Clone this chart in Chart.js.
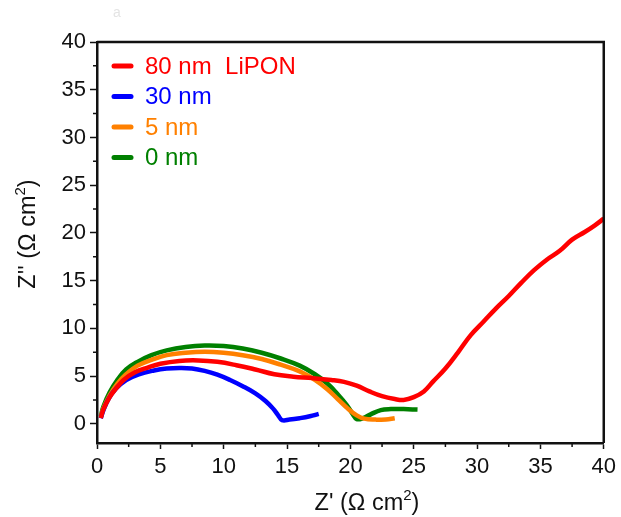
<!DOCTYPE html>
<html>
<head>
<meta charset="utf-8">
<script src="https://cdn.jsdelivr.net/npm/chart.js@4.4.1/dist/chart.umd.min.js"></script>
<style>
  html, body { margin: 0; padding: 0; background: #fff; }
  #wrap { width: 621px; height: 517px; position: relative; }
</style>
</head>
<body>
<div id="wrap"><canvas id="c" width="621" height="517"></canvas></div>
<script>
// Nyquist plots for cells with different LiPON thicknesses
const seriesLabels = ['80 nm  LiPON', '30 nm', '5 nm', '0 nm'];
const seriesColors = ['#ff0000', '#0000ff', '#ff8000', '#008000'];

// Z' (x) and Z'' (y) in Ω cm²
const lipon80X = [0.3,0.5,1.0,1.5,2.1,3.0,4.0,5.0,6.5,8.0,9.5,11.0,12.5,14.0,15.5,17.0,18.5,19.5,20.5,21.5,22.5,23.5,24.2,25.0,25.8,26.5,27.5,28.5,29.5,30.5,31.5,32.5,33.5,34.5,35.5,36.5,37.5,38.5,39.3,40.0];
const lipon80Y = [0.6,1.5,2.8,3.7,4.6,5.4,5.9,6.3,6.6,6.65,6.5,6.15,5.7,5.2,4.95,4.8,4.6,4.4,4.0,3.4,2.9,2.6,2.5,2.8,3.4,4.4,5.8,7.5,9.3,10.7,12.1,13.4,14.8,16.1,17.2,18.1,19.3,20.1,20.8,21.5];

const lipon30X = [0.3,0.5,0.9,1.5,2.3,3.3,4.5,5.5,6.5,7.5,8.5,9.5,10.5,11.5,12.5,13.3,13.9,14.3,14.6,15.2,16.0,16.8,17.5];
const lipon30Y = [0.6,1.4,2.6,3.7,4.6,5.2,5.6,5.8,5.85,5.8,5.55,5.15,4.6,3.95,3.2,2.4,1.6,0.9,0.4,0.45,0.6,0.8,1.05];

const lipon5X = [0.3,0.5,1.0,1.6,2.3,3.2,4.3,5.5,7.0,8.5,10.0,11.5,13.0,14.5,16.0,17.2,18.2,19.0,19.8,20.5,21.1,22.0,22.8,23.5];
const lipon5Y = [0.7,1.6,3.0,4.2,5.2,6.1,6.7,7.2,7.45,7.55,7.45,7.2,6.8,6.2,5.5,4.6,3.6,2.6,1.6,0.9,0.55,0.45,0.45,0.6];

const lipon0X = [0.3,0.5,1.0,1.6,2.3,3.2,4.3,5.5,7.0,8.5,10.0,11.5,13.0,14.5,16.0,17.2,18.2,19.0,19.7,20.2,20.5,21.0,21.6,22.4,23.2,24.2,25.3];
const lipon0Y = [0.8,1.8,3.3,4.6,5.7,6.5,7.2,7.7,8.05,8.2,8.15,7.9,7.45,6.85,6.1,5.2,4.2,3.1,2.0,1.0,0.5,0.6,1.0,1.45,1.55,1.55,1.5];

const xTicks = [0,5,10,15,20,25,30,35,40];
const yTicks = [0,5,10,15,20,25,30,35,40];

const toPoints = (xs, ys) => xs.map((x, i) => ({ x, y: ys[i] }));
const seriesData = [
  toPoints(lipon80X, lipon80Y),
  toPoints(lipon30X, lipon30Y),
  toPoints(lipon5X, lipon5Y),
  toPoints(lipon0X, lipon0Y)
];

const FONT = 'Liberation Sans, Arial, sans-serif';
const INK = '#111';

// draws a unit title such as Z' (Ω cm²) with a raised, smaller exponent
function drawUnitTitle(ctx, prefix, x, y, size) {
  const tail = ')';
  const supSize = Math.round(size * 0.62);
  ctx.font = size + 'px ' + FONT;
  const wPre = ctx.measureText(prefix).width;
  const wTail = ctx.measureText(tail).width;
  ctx.font = supSize + 'px ' + FONT;
  const wSup = ctx.measureText('2').width;
  let cx = x - (wPre + wSup + wTail) / 2;
  ctx.textAlign = 'left';
  ctx.textBaseline = 'alphabetic';
  ctx.font = size + 'px ' + FONT;
  ctx.fillText(prefix, cx, y);
  cx += wPre;
  ctx.font = supSize + 'px ' + FONT;
  ctx.fillText('2', cx, y - size * 0.42);
  cx += wSup;
  ctx.font = size + 'px ' + FONT;
  ctx.fillText(tail, cx, y);
}

// Box frame, minor ticks, axis titles and in-plot legend
const decorations = {
  id: 'decorations',
  afterDraw(chart) {
    const { ctx, chartArea: a, scales } = chart;
    ctx.save();
    ctx.strokeStyle = INK;
    ctx.lineWidth = 2.5;
    ctx.beginPath();
    ctx.moveTo(a.left, a.top); ctx.lineTo(a.right, a.top); ctx.lineTo(a.right, a.bottom);
    ctx.stroke();

    // minor ticks
    ctx.lineWidth = 1.5;
    ctx.beginPath();
    for (let v = 2.5; v < 40; v += 5) {
      const px = scales.x.getPixelForValue(v);
      ctx.moveTo(px, a.bottom); ctx.lineTo(px, a.bottom + 4);
      const py = scales.y.getPixelForValue(v);
      ctx.moveTo(a.left, py); ctx.lineTo(a.left - 4, py);
    }
    ctx.stroke();

    // axis titles
    ctx.fillStyle = INK;
    drawUnitTitle(ctx, "Z' (Ω cm", 367, 510, 23.5);
    ctx.save();
    ctx.translate(35, 234);
    ctx.rotate(-Math.PI / 2);
    drawUnitTitle(ctx, "Z'' (Ω cm", 0, 0, 23.5);
    ctx.restore();

    // legend
    ctx.font = '24px ' + FONT;
    ctx.textAlign = 'left';
    ctx.textBaseline = 'middle';
    chart.data.datasets.forEach((ds, i) => {
      const y = 66 + i * 30.5;
      ctx.strokeStyle = ds.borderColor;
      ctx.lineWidth = 5;
      ctx.lineCap = 'round';
      ctx.beginPath();
      ctx.moveTo(114, y); ctx.lineTo(131, y);
      ctx.stroke();
      ctx.fillStyle = ds.borderColor;
      ctx.fillText(ds.label, 145, y + 1);
    });

    // faint panel mark
    ctx.fillStyle = '#e4e4e4';
    ctx.font = '14px ' + FONT;
    ctx.fillText('a', 113, 13);
    ctx.restore();
  }
};

new Chart(document.getElementById('c'), {
  type: 'line',
  data: {
    datasets: seriesData.map((pts, i) => ({
      label: seriesLabels[i],
      data: pts,
      borderColor: seriesColors[i],
      backgroundColor: seriesColors[i],
      borderWidth: 4.5,
      pointRadius: 0,
      tension: 0.4,
      fill: false
    }))
  },
  options: {
    responsive: false,
    animation: false,
    layout: { padding: { top: 42, right: 15, left: 8, bottom: 8 } },
    plugins: { legend: { display: false }, tooltip: { enabled: false } },
    scales: {
      x: {
        type: 'linear',
        min: 0, max: 40,
        afterBuildTicks: s => { s.ticks = xTicks.map(v => ({ value: v })); },
        afterFit: s => { s.height = 66; },
        border: { color: INK, width: 2.5 },
        grid: { drawOnChartArea: false, drawTicks: true, tickLength: 6, tickColor: INK, tickWidth: 1.5 },
        ticks: { color: INK, font: { size: 22, family: FONT }, padding: 5, maxRotation: 0 },
        title: { display: false }
      },
      y: {
        type: 'linear',
        min: -2, max: 40,
        afterBuildTicks: s => { s.ticks = yTicks.map(v => ({ value: v })); },
        afterFit: s => { s.width = 89; },
        border: { color: INK, width: 2.5 },
        grid: { drawOnChartArea: false, drawTicks: true, tickLength: 7, tickColor: INK, tickWidth: 1.5 },
        ticks: { color: INK, font: { size: 22, family: FONT }, padding: 4 },
        title: { display: false }
      }
    }
  },
  plugins: [decorations]
});
</script>
</body>
</html>
